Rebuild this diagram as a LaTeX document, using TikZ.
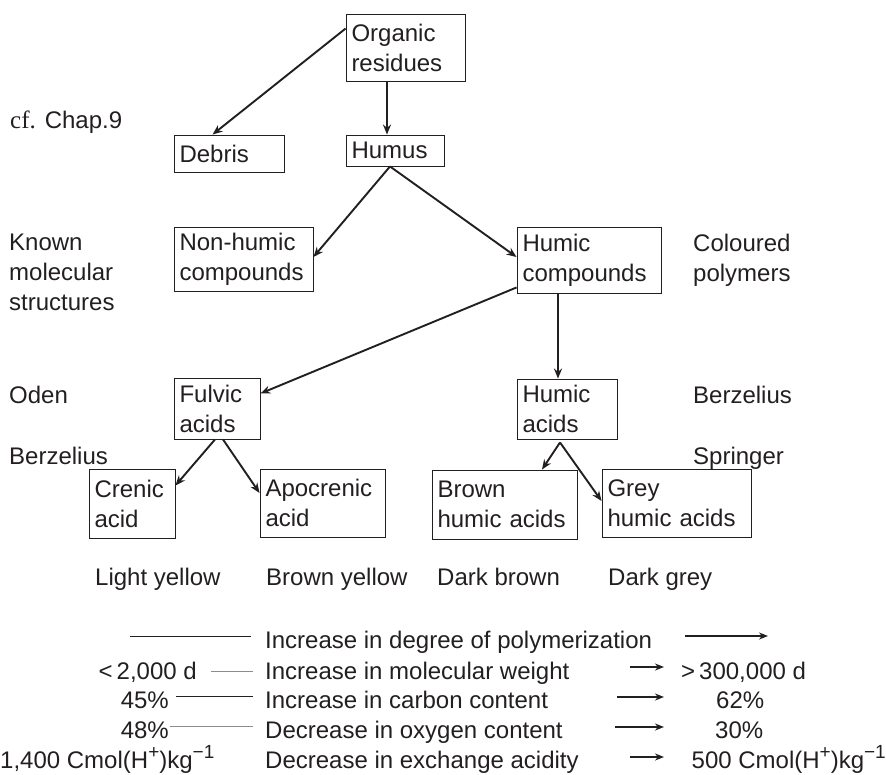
\documentclass[tikz,border=0pt]{standalone}
\usepackage{fontspec}
\setmainfont{Liberation Sans}
\newfontfamily\serifcf{Liberation Serif}
\usetikzlibrary{arrows.meta}
\definecolor{ink}{HTML}{231F20}
\definecolor{gl}{gray}{0.55}
\newcommand\dfont{\fontsize{24}{30}\selectfont}
\newcommand\supx[1]{\raisebox{9.5pt}{\fontsize{19}{19}\selectfont #1}}
\begin{document}
\begin{tikzpicture}[x=1pt,y=-1pt,
  box/.style={draw=ink, line width=0.9pt, inner xsep=5.5pt, inner ysep=0pt, align=left, font=\dfont, text=ink},
  lab/.style={inner sep=0pt, anchor=base west, font=\dfont, text=ink},
  mlab/.style={inner sep=0pt, anchor=north west, align=left, font=\dfont, text=ink},
  arr/.style={draw=ink, line width=1.9pt, -{Stealth[length=10pt,width=8pt]}},
  sarr/.style={draw=ink, line width=2pt, -{Stealth[length=9pt,width=7pt]}},
  rule/.style={draw=ink, line width=0.8pt},
  grule/.style={draw=gl, line width=1pt}]
\useasboundingbox (0,0) rectangle (886,774);

% boxes
\node[box, text width=108pt, minimum height=67pt] (org) at (405.5,47.5) {Organic\\residues};
\node[box, text width=99pt, minimum height=37pt] (debris) at (229,153.5) {Debris};
\node[box, text width=87pt, minimum height=31pt] (humus) at (395,150.5) {Humus};
\node[box, text width=128pt, minimum height=64pt] (nonhumic) at (243.5,259) {Non-humic\\compounds};
\node[box, text width=133pt, minimum height=66pt] (humicc) at (589,260) {Humic\\compounds};
\node[box, text width=75pt, minimum height=61pt] (fulvic) at (217,408.5) {Fulvic\\acids};
\node[box, text width=89pt, minimum height=60pt] (humica) at (567,409) {Humic\\acids};
\node[box, text width=75pt, minimum height=69pt] (crenic) at (132,503.5) {Crenic\\acid};
\node[box, text width=114pt, minimum height=68pt] (apocrenic) at (322.5,503) {Apocrenic\\acid};
\node[box, text width=134pt, minimum height=69pt] (brown) at (504.5,504.5) {Brown\\humic acids};
\node[box, text width=138pt, minimum height=68pt] (grey) at (676.5,503) {Grey\\humic acids};

% connectors
\draw[arr] ([yshift=-15pt]org.north west) -- ([xshift=39pt]debris.north west);
\draw[arr] ([xshift=-18.5pt]org.south) -- ([xshift=-8pt]humus.north);
\draw[arr] ([xshift=-5pt]humus.south) -- ([yshift=2pt]nonhumic.east);
\draw[arr] ([xshift=-5pt]humus.south) -- ([yshift=3pt]humicc.west);
\draw[arr] ([yshift=6pt]humicc.south west) -- ([yshift=15pt]fulvic.east);
\draw[arr] ([xshift=-31pt]humicc.south) -- ([xshift=-9pt]humica.north);
\draw[arr] ([xshift=-2pt]fulvic.south) -- ([yshift=18pt]crenic.east);
\draw[arr] ([xshift=6pt]fulvic.south) -- ([yshift=10pt]apocrenic.west);
\draw[arr] ([xshift=-7pt,yshift=-3pt]humica.south) -- ([xshift=37.5pt]brown.north);
\draw[arr] ([xshift=-7pt,yshift=-3pt]humica.south) -- ([yshift=2pt]grey.west);

% side labels
\node[lab] (cf) at (10,128) {{\serifcf\fontsize{25}{30}\selectfont cf.} Chap.9};
\node[mlab] (known) at (9,233.6) {Known\\molecular\\structures};
\node[mlab] (colp) at (693,233.6) {Coloured\\polymers};
\node[lab] (oden) at (9,403) {Oden};
\node[lab] (berzr) at (693,403) {Berzelius};
\node[lab] (berzl) at (9,464) {Berzelius};
\node[lab] (spr) at (693,464) {Springer};

% colour labels
\node[lab] (ly) at (95,585) {Light yellow};
\node[lab] (by) at (266,585) {Brown yellow};
\node[lab] (db) at (437,585) {Dark brown};
\node[lab] (dg) at (608,585) {Dark grey};

% bottom rows
\node[lab] (t1) at (265,648) {Increase in degree of polymerization};
\node[lab] (t2) at (265,679) {Increase in molecular weight};
\node[lab] (t3) at (265,708) {Increase in carbon content};
\node[lab] (t4) at (265,738) {Decrease in oxygen content};
\node[lab] (t5) at (265,768) {Decrease in exchange acidity};

\node[lab, anchor=base east] (l2) at (197,679) {<\,2,000 d};
\node[lab, anchor=base east] (l3) at (169,708) {45\%};
\node[lab, anchor=base east] (l4) at (169,738) {48\%};
\node[lab] (l5) at (0,768) {1,400 Cmol(H\supx{+})kg\supx{−1}};

\node[lab] (r2) at (681,679) {>\,300,000 d};
\node[lab] (r3) at (716,708) {62\%};
\node[lab] (r4) at (715,738) {30\%};
\node[lab, anchor=base east] (r5) at (886,768) {500 Cmol(H\supx{+})kg\supx{−1}};

\coordinate (a1s) at (130,636); \coordinate (a1e) at (251,636);
\draw[rule] (a1s) -- (a1e);
\coordinate (a2s) at (211,671); \coordinate (a2e) at (253,671);
\draw[grule] (a2s) -- (a2e);
\coordinate (a3s) at (176,696); \coordinate (a3e) at (253,696);
\draw[rule] (a3s) -- (a3e);
\coordinate (a4s) at (170,726); \coordinate (a4e) at (253,726);
\draw[grule] (a4s) -- (a4e);

\coordinate (b1s) at (685,636); \coordinate (b1e) at (768,636);
\draw[sarr] (b1s) -- (b1e);
\coordinate (b2s) at (630,667); \coordinate (b2e) at (664,667);
\draw[sarr] (b2s) -- (b2e);
\coordinate (b3s) at (617,697); \coordinate (b3e) at (664,697);
\draw[sarr] (b3s) -- (b3e);
\coordinate (b4s) at (615,727); \coordinate (b4e) at (664,727);
\draw[sarr] (b4s) -- (b4e);
\coordinate (b5s) at (630,757); \coordinate (b5e) at (664,757);
\draw[sarr] (b5s) -- (b5e);
\end{tikzpicture}
\end{document}
